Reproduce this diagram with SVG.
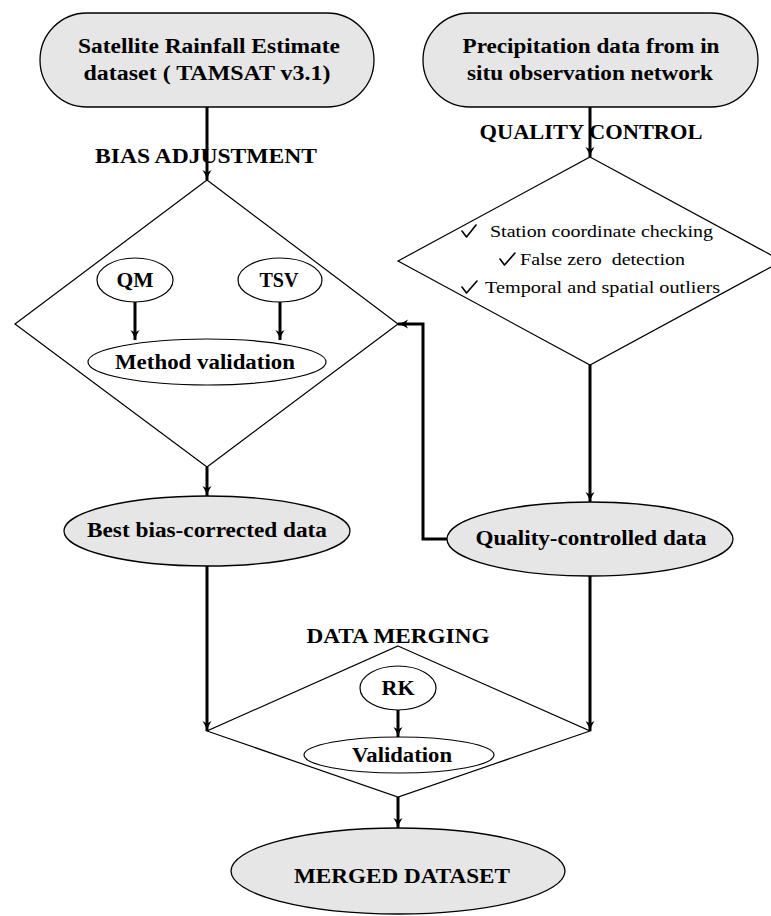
<svg xmlns="http://www.w3.org/2000/svg" width="771" height="916" viewBox="0 0 771 916">
<defs>
<marker id="ah" markerUnits="userSpaceOnUse" markerWidth="12" markerHeight="12" viewBox="0 0 12 12" refX="11" refY="6" orient="auto">
<path d="M1,1.5 Q6,5 11,6 Q6,7 1,10.5 L3.5,6 Z" fill="#000"/>
</marker>
</defs>
<style>
text{font-family:"Liberation Serif","DejaVu Serif",serif;fill:#000;text-anchor:middle}
.b{font-weight:bold;font-size:20px}
.h{font-weight:bold;font-size:20px}
.r{font-size:17px;text-anchor:start}
.gray{fill:#e6e6e6;stroke:#000;stroke-width:1.3}
.white{fill:#fff;stroke:#000;stroke-width:1.2}
.dia{fill:none;stroke:#000;stroke-width:1.2}
.c{fill:none;stroke:#000;stroke-width:3}
.ck{fill:none;stroke:#000;stroke-width:1.6;stroke-linejoin:round;stroke-linecap:round}
</style>

<g id="satellite">
<rect class="gray" x="40" y="13" width="334" height="94" rx="47" ry="47"/>
<text class="b" x="209" y="53" textLength="262" lengthAdjust="spacingAndGlyphs">Satellite Rainfall Estimate</text>
<text class="b" x="207" y="80" textLength="247" lengthAdjust="spacingAndGlyphs">dataset ( TAMSAT v3.1)</text>
</g>

<g id="insitu">
<rect class="gray" x="423" y="13" width="335" height="94" rx="47" ry="47"/>
<text class="b" x="591" y="53" textLength="257" lengthAdjust="spacingAndGlyphs">Precipitation data from in</text>
<text class="b" x="590" y="80" textLength="246" lengthAdjust="spacingAndGlyphs">situ observation network</text>
</g>

<g id="bias-adjustment">
<text class="h" x="206" y="163" textLength="222" lengthAdjust="spacingAndGlyphs">BIAS ADJUSTMENT</text>
<polygon class="dia" points="207,180 398,324 207,467 15,324"/>
</g>

<g id="qm">
<ellipse class="white" cx="135" cy="280" rx="38" ry="22"/>
<text class="b" x="135" y="287" textLength="37" lengthAdjust="spacingAndGlyphs">QM</text>
</g>
<g id="tsv">
<ellipse class="white" cx="280" cy="280" rx="42" ry="22"/>
<text class="b" x="279" y="287" textLength="39" lengthAdjust="spacingAndGlyphs">TSV</text>
</g>
<g id="method-validation">
<ellipse class="white" cx="207" cy="362" rx="119" ry="23"/>
<text class="b" x="205" y="369" textLength="180" lengthAdjust="spacingAndGlyphs">Method validation</text>
</g>

<g id="quality-control">
<text class="h" x="591" y="139" textLength="223" lengthAdjust="spacingAndGlyphs">QUALITY CONTROL</text>
<polygon class="dia" points="590,157 782,261 590,365 398,261"/>
<path class="ck" d="M462,231 L466.5,237 L476,225"/>
<text class="r" x="490" y="237" textLength="223" lengthAdjust="spacingAndGlyphs">Station coordinate checking</text>
<path class="ck" d="M500,259 L504.5,265 L515,253"/>
<text class="r" x="520" y="265" textLength="165" lengthAdjust="spacingAndGlyphs">False zero&#160; detection</text>
<path class="ck" d="M462,287 L466.5,293 L477,281"/>
<text class="r" x="485" y="293" textLength="235" lengthAdjust="spacingAndGlyphs">Temporal and spatial outliers</text>
</g>

<g id="best-bias">
<ellipse class="gray" cx="207" cy="531" rx="143" ry="35"/>
<text class="b" x="207" y="537" textLength="240" lengthAdjust="spacingAndGlyphs">Best bias-corrected data</text>
</g>

<g id="quality-controlled">
<ellipse class="gray" cx="590" cy="539" rx="143" ry="37"/>
<text class="b" x="591" y="545" textLength="231" lengthAdjust="spacingAndGlyphs">Quality-controlled data</text>
</g>

<g id="data-merging">
<text class="h" x="398" y="643" textLength="183" lengthAdjust="spacingAndGlyphs">DATA MERGING</text>
<polygon class="dia" points="398,646 590,731 398,797 207,731"/>
</g>
<g id="rk">
<ellipse class="white" cx="398" cy="688" rx="38" ry="22"/>
<text class="b" x="398" y="695" textLength="33" lengthAdjust="spacingAndGlyphs">RK</text>
</g>
<g id="validation">
<ellipse class="white" cx="399" cy="755" rx="95" ry="18"/>
<text class="b" x="402" y="762" textLength="100" lengthAdjust="spacingAndGlyphs">Validation</text>
</g>

<g id="merged">
<ellipse class="gray" cx="398" cy="871" rx="167" ry="43"/>
<text class="b" x="402" y="883" textLength="216" lengthAdjust="spacingAndGlyphs">MERGED DATASET</text>
</g>

<g id="connectors">
<line class="c" x1="207" y1="107" x2="207" y2="180" marker-end="url(#ah)"/>
<line class="c" x1="590" y1="107" x2="590" y2="157" marker-end="url(#ah)"/>
<line class="c" x1="135" y1="302" x2="135" y2="340" marker-end="url(#ah)"/>
<line class="c" x1="280" y1="302" x2="280" y2="340" marker-end="url(#ah)"/>
<line class="c" x1="207" y1="467" x2="207" y2="496" marker-end="url(#ah)"/>
<line class="c" x1="590" y1="365" x2="590" y2="502" marker-end="url(#ah)"/>
<polyline class="c" points="447,539 423,539 423,324 398,324" marker-end="url(#ah)"/>
<line class="c" x1="207" y1="566" x2="207" y2="731" marker-end="url(#ah)"/>
<line class="c" x1="590" y1="576" x2="590" y2="731" marker-end="url(#ah)"/>
<line class="c" x1="398" y1="710" x2="398" y2="737" marker-end="url(#ah)"/>
<line class="c" x1="398" y1="797" x2="398" y2="828" marker-end="url(#ah)"/>
</g>
</svg>
